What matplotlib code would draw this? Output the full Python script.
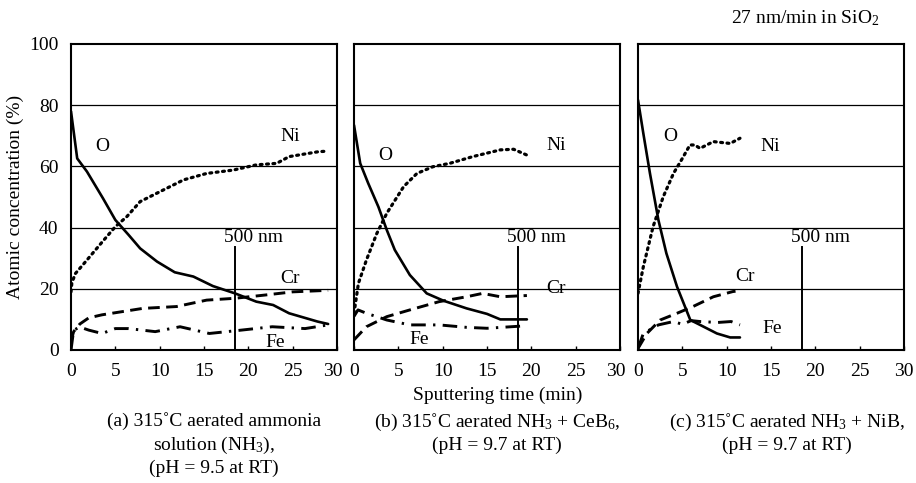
import matplotlib
matplotlib.use("Agg")
import matplotlib.pyplot as plt
import matplotlib.transforms as mtransforms

plt.rcParams['font.family'] = ['Liberation Serif', 'DejaVu Serif']
plt.rcParams['mathtext.fontset'] = 'custom'
plt.rcParams['mathtext.rm'] = 'Liberation Serif'
plt.rcParams['mathtext.it'] = 'Liberation Serif:italic'

W, H = 916, 483

# ---- data (time in min, concentration in %) ----
# (a) aerated ammonia solution
a_o_t = [0, 0.7, 1.8, 3.6, 5.0, 6.5, 7.8, 9.7, 11.7, 13.8, 16.0, 18.5, 20.9, 22.8, 24.6, 27.8, 29.0]
a_o_c = [78, 62.6, 58.3, 49.6, 42.5, 37.6, 33.2, 28.9, 25.4, 24, 20.9, 18.5, 15.8, 14.7, 12, 9.3, 8.5]
a_ni_t = [0, 0.1, 0.5, 1.8, 3.4, 5.0, 6.3, 7.8, 10.0, 12.7, 15.3, 18.3, 20.9, 23.2, 24.6, 27.9, 29.0]
a_ni_c = [19, 22, 25, 29.4, 34.9, 40.3, 43.6, 48.5, 51.7, 55.6, 57.7, 58.8, 60.5, 61, 63.2, 64.8, 65]
a_cr_t = [0, 0.3, 1.0, 2.0, 3.5, 4.6, 8.1, 11.9, 15.3, 18.5, 22.0, 25.0, 29.0]
a_cr_c = [3, 6, 8.5, 10.5, 11.5, 12, 13.6, 14.2, 16.3, 16.9, 18, 19, 19.5]
a_fe_t = [0, 0.3, 1.0, 2.0, 3.5, 5.0, 6.5, 9.5, 12.3, 15.6, 18.9, 22.7, 26.4, 29.0]
a_fe_c = [0, 6.5, 7.5, 6.5, 5.4, 7, 7, 6, 7.6, 5.4, 6.4, 7.6, 7, 8.2]

# (b) NH3 + CeB6
b_o_t = [0, 0.7, 1.6, 2.75, 3.7, 4.6, 6.3, 8.2, 10.1, 12.7, 15.0, 16.5, 19.5]
b_o_c = [73.5, 61, 54.5, 46.8, 39.2, 32.7, 24.5, 18.5, 16.1, 13.6, 11.8, 10, 10]
b_ni_t = [0, 0.5, 1.4, 2.56, 3.7, 5.6, 7.1, 8.9, 10.8, 13.4, 16.5, 18.0, 19.5]
b_ni_c = [12, 21.8, 29.4, 38, 44.7, 53.4, 57.7, 59.9, 61, 63.2, 65.4, 65.6, 63.7]
b_cr_t = [0, 1.4, 3.7, 6.3, 9.6, 12.7, 14.5, 16.5, 19.5]
b_cr_c = [3.3, 7.6, 10.9, 13.1, 15.8, 17.4, 18.5, 17.4, 17.8]
b_fe_t = [0, 0.45, 1.4, 3.7, 6.3, 9.6, 12.7, 15.0, 18.8]
b_fe_c = [11, 13.1, 12, 9.8, 8.2, 8.2, 7.4, 7.1, 7.8]

# (c) NH3 + NiB
c_o_t = [0, 0.6, 1.35, 2.3, 3.2, 4.4, 5.9, 7.0, 8.9, 10.4, 11.5]
c_o_c = [81.7, 70.8, 57.7, 42.5, 31.6, 20.7, 9.8, 8.2, 5.4, 4.1, 4.1]
c_ni_t = [0, 0.6, 1.7, 2.85, 4.0, 4.9, 5.86, 6.4, 7.0, 8.5, 10.4, 11.5]
c_ni_c = [18.5, 27.2, 40.3, 50.1, 57.7, 62.1, 67, 67, 65.9, 68.1, 67.5, 69.2]
c_cr_t = [0, 1.0, 2.5, 4.4, 6.2, 8.5, 10.7, 11.0]
c_cr_c = [0.5, 5.4, 9.8, 12, 14.2, 17.4, 19.1, 19.2]
c_fe_t = [0, 0.6, 2.3, 4.0, 5.0, 6.0, 7.0, 9.0, 10.5, 11.5]
c_fe_c = [0.5, 5.4, 8.2, 9.3, 8.4, 9.6, 9.3, 9, 9.3, 8.2]

depth_nm = 500
rate_nm_min = 27

captions = [
    "(a) 315˚C aerated ammonia\nsolution (NH$_3$),\n(pH = 9.5 at RT)",
    "(b) 315˚C aerated NH$_3$ + CeB$_6$,\n(pH = 9.7 at RT)",
    "(c) 315˚C aerated NH$_3$ + NiB,\n(pH = 9.7 at RT)",
]

panels = [
    dict(o=(a_o_t, a_o_c), ni=(a_ni_t, a_ni_c), cr=(a_cr_t, a_cr_c), fe=(a_fe_t, a_fe_c),
         lab={"O": (3.5, 66.4), "Ni": (24.7, 69.7), "Cr": (24.7, 23.5), "Fe": (23.0, 2.3)}),
    dict(o=(b_o_t, b_o_c), ni=(b_ni_t, b_ni_c), cr=(b_cr_t, b_cr_c), fe=(b_fe_t, b_fe_c),
         lab={"O": (3.5, 63.4), "Ni": (22.8, 66.7), "Cr": (22.8, 20.1), "Fe": (7.3, 3.3)}),
    dict(o=(c_o_t, c_o_c), ni=(c_ni_t, c_ni_c), cr=(c_cr_t, c_cr_c), fe=(c_fe_t, c_fe_c),
         lab={"O": (3.6, 69.9), "Ni": (14.9, 66.4), "Cr": (12.1, 24.0), "Fe": (15.1, 7.1)}),
]

lefts = [71, 354, 638]
ax_w, ax_top, ax_bot = 266, 44, 350
cap_x = [214, 497, 787]

fig = plt.figure(figsize=(W / 100, H / 100), dpi=100)
FS = 14

t500 = depth_nm / rate_nm_min
for i, p in enumerate(panels):
    ax = fig.add_axes([lefts[i] / W, 1 - ax_bot / H, ax_w / W, (ax_bot - ax_top) / H])
    ax.set_xlim(0, 30)
    ax.set_ylim(0, 100)
    for y in [20, 40, 60, 80]:
        ax.axhline(y, color='black', lw=0.9)
    for s in ax.spines.values():
        s.set_linewidth(1.5)
    ax.plot(*p["o"], color='black', lw=1.9, ls='-', solid_capstyle='round')
    ax.plot(*p["ni"], color='black', lw=2.3, ls=(0, (0.6, 1.4)), dash_capstyle='round')
    ax.plot(*p["cr"], color='black', lw=2.1, ls=(0, (4, 2.2)))
    ax.plot(*p["fe"], color='black', lw=2.1, ls=(0, (5, 2.5, 0.8, 2.5)))
    ax.plot([t500, t500], [0, 33.5], color='black', lw=1.4)
    ax.text(t500 - 1.3, 36.8, "500 nm", fontsize=FS, va='center', ha='left')
    for name, (tx, ty) in p["lab"].items():
        ax.text(tx, ty, name, fontsize=FS, ha='center', va='center')
    ax.set_xticks([0, 5, 10, 15, 20, 25, 30])
    ax.tick_params(axis='x', direction='in', length=3, width=1, labelsize=FS, pad=9)
    if i < 2:
        # nudge the last "30" left so it doesn't run into the next panel's "0"
        lbl = ax.get_xticklabels()[-1]
        lbl.set_transform(lbl.get_transform() +
                          mtransforms.ScaledTranslation(-4 / 100, 0, fig.dpi_scale_trans))
    if i == 0:
        ax.set_yticks([0, 20, 40, 60, 80, 100])
        ax.tick_params(axis='y', length=0, labelsize=FS, pad=9)
        ax.set_ylabel("Atomic concentration (%)", fontsize=FS, labelpad=4)
    else:
        ax.set_yticks([])
    fig.text(cap_x[i] / W, 1 - 412 / H, captions[i], fontsize=FS, ha='center', va='top',
             linespacing=1.3)

fig.text(498 / W, 1 - 395 / H, "Sputtering time (min)", fontsize=FS, ha='center', va='center')
fig.text(880 / W, 1 - 18 / H, "27 nm/min in SiO$_2$", fontsize=FS, ha='right', va='center')

fig.savefig("out.png", dpi=100)
